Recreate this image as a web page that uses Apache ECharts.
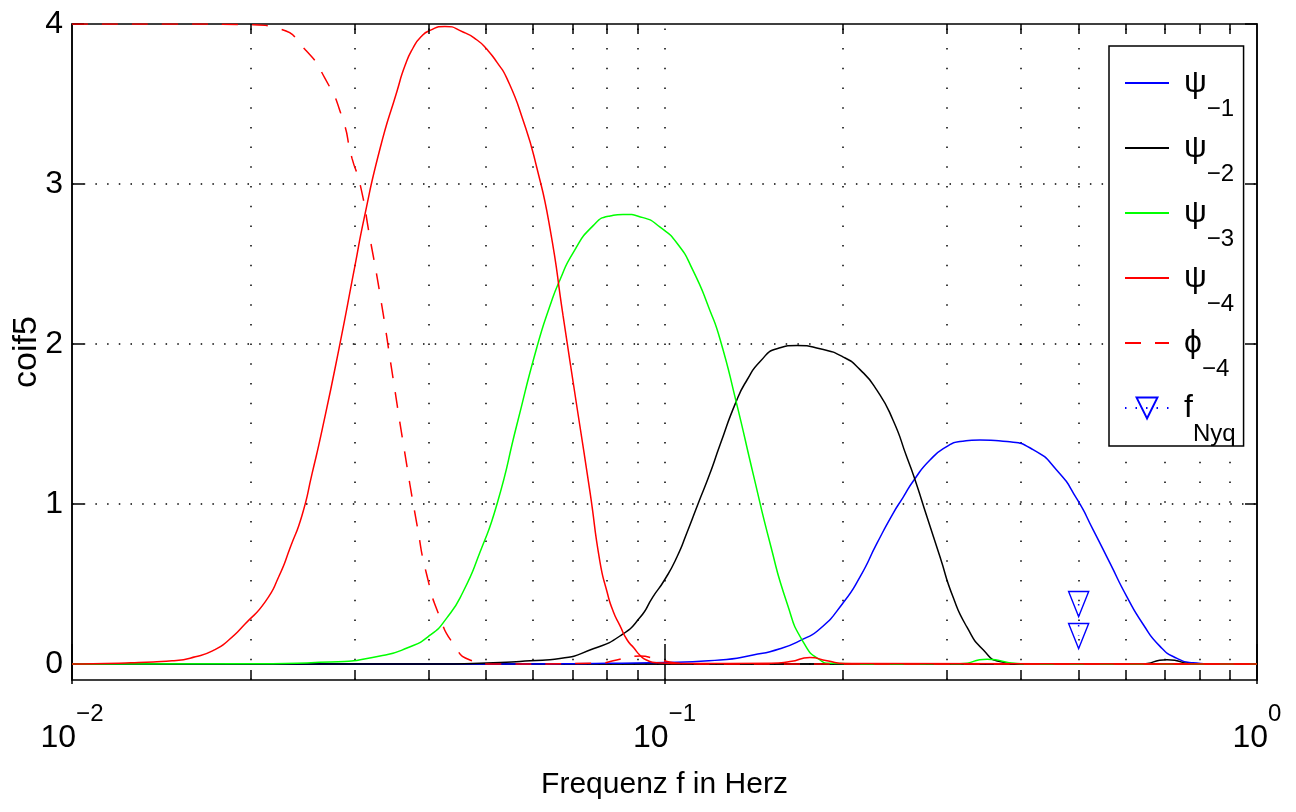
<!DOCTYPE html>
<html>
<head>
<meta charset="utf-8">
<script src="https://cdn.jsdelivr.net/npm/echarts@6/dist/echarts.min.js"></script>
<style>
html,body{margin:0;padding:0;background:#fff;}
#chart{width:1296px;height:812px;}
</style>
</head>
<body>
<div id="chart"></div>
<script>
// ---------------- data ----------------
// psi_-1 (blue)
const psi1Freq = [0.01, 0.03, 0.05, 0.1, 0.1241, 0.1411, 0.1566, 0.1713, 0.183, 0.2, 0.2138, 0.2284, 0.243, 0.2526, 0.2637, 0.2806, 0.2999, 0.3153, 0.3407, 0.3785, 0.4188, 0.4597, 0.4969, 0.5288, 0.5648, 0.6032, 0.6419, 0.686, 0.7328, 0.7798, 0.856, 1.0];
const psi1Val  = [0, 0, 0, 0.01, 0.025, 0.056, 0.095, 0.155, 0.22, 0.38, 0.545, 0.755, 0.94, 1.04, 1.15, 1.275, 1.36, 1.39, 1.40, 1.39, 1.34, 1.21, 1.03, 0.84, 0.63, 0.42, 0.25, 0.11, 0.035, 0.008, 0, 0];
// psi_-2 (black)
const psi2Freq = [0.01, 0.04, 0.0528, 0.0593, 0.0666, 0.0758, 0.0841, 0.0909, 0.0956, 0.1, 0.105, 0.1091, 0.1139, 0.1193, 0.1241, 0.1321, 0.1378, 0.145, 0.1548, 0.1674, 0.183, 0.2, 0.2138, 0.2284, 0.243, 0.2566, 0.2637, 0.2773, 0.2917, 0.3068, 0.324, 0.3447, 0.3683, 0.3981, 0.6346, 0.7048, 0.786, 1.0];
const psi2Val  = [0, 0, 0.01, 0.02, 0.035, 0.095, 0.175, 0.29, 0.42, 0.525, 0.67, 0.82, 1.00, 1.19, 1.37, 1.64, 1.775, 1.89, 1.97, 1.99, 1.97, 1.92, 1.84, 1.71, 1.525, 1.29, 1.17, 0.92, 0.67, 0.42, 0.23, 0.09, 0.015, 0, 0, 0.027, 0, 0];
// psi_-3 (green)
const psi3Freq = [0.01, 0.02, 0.02725, 0.0331, 0.03676, 0.04021, 0.04295, 0.0457, 0.04883, 0.05216, 0.05638, 0.0609, 0.0641, 0.0666, 0.0701, 0.0758, 0.0809, 0.0851, 0.092, 0.0983, 0.105, 0.1117, 0.1193, 0.1241, 0.1321, 0.1411, 0.1507, 0.161, 0.1713, 0.183, 0.1903, 0.25, 0.3153, 0.3503, 0.3935, 0.4304, 1.0];
const psi3Val  = [0, 0.002, 0.012, 0.05, 0.10, 0.18, 0.29, 0.45, 0.70, 1.00, 1.50, 1.98, 2.24, 2.40, 2.57, 2.74, 2.80, 2.81, 2.79, 2.73, 2.63, 2.46, 2.21, 2.03, 1.64, 1.19, 0.755, 0.38, 0.14, 0.025, 0.005, 0, 0.002, 0.03, 0.003, 0, 0];
// psi_-4 (red)
const psi4Freq = [0.01, 0.012, 0.01296, 0.01475, 0.01615, 0.01743, 0.01839, 0.01959, 0.0212, 0.02236, 0.02336, 0.02445, 0.02542, 0.02642, 0.02822, 0.0300, 0.0311, 0.0331, 0.03536, 0.03648, 0.03763, 0.03882, 0.04021, 0.0426, 0.0457, 0.04826, 0.0502, 0.05216, 0.0542, 0.0577, 0.0609, 0.0641, 0.0674, 0.0712, 0.0749, 0.0778, 0.0800, 0.0819, 0.0841, 0.0865, 0.0888, 0.0909, 0.0932, 0.0971, 0.1104, 0.1507, 0.1629, 0.176, 0.1881, 0.2017, 1.0];
const psi4Val  = [0, 0.005, 0.01, 0.02, 0.045, 0.09, 0.15, 0.25, 0.39, 0.55, 0.73, 0.93, 1.19, 1.46, 1.97, 2.48, 2.78, 3.22, 3.58, 3.74, 3.85, 3.92, 3.96, 3.985, 3.95, 3.90, 3.84, 3.76, 3.66, 3.40, 3.10, 2.72, 2.18, 1.60, 1.07, 0.64, 0.45, 0.33, 0.24, 0.15, 0.10, 0.055, 0.025, 0.008, 0.003, 0.005, 0.015, 0.04, 0.02, 0.003, 0];
// phi_-4 (red dashed)
const phi4Freq = [0.01, 0.015, 0.02, 0.02236, 0.02474, 0.02673, 0.02855, 0.02969, 0.03063, 0.03184, 0.0331, 0.03481, 0.03619, 0.03822, 0.03974, 0.04179, 0.04395, 0.04695, 0.0508, 0.0778, 0.0819, 0.0865, 0.0909, 0.0971, 0.1062, 0.12, 1.0];
const phi4Val  = [4.0, 4.0, 3.995, 3.97, 3.84, 3.66, 3.42, 3.16, 3.00, 2.66, 2.31, 1.79, 1.39, 0.87, 0.55, 0.29, 0.13, 0.025, 0, 0.005, 0.02, 0.04, 0.05, 0.03, 0.005, 0, 0];
// f_Nyq markers
const nyqFreq = [0.5, 0.5];
const nyqVal  = [0.375, 0.175];

// axes / ticks
const xMajorTicks = [0.01, 0.1, 1];
const xTickExponents = ['\u22122', '\u22121', '0'];
const xMinorTicks = [0.02, 0.03, 0.04, 0.05, 0.06, 0.07, 0.08, 0.09, 0.2, 0.3, 0.4, 0.5, 0.6, 0.7, 0.8, 0.9];
const xGridLines = [0.02, 0.03, 0.04, 0.05, 0.06, 0.07, 0.08, 0.09, 0.1, 0.2, 0.3, 0.4, 0.5, 0.6, 0.7, 0.8, 0.9];
const yTicks = [0, 1, 2, 3, 4];
const yGridLines = [0, 1, 2, 3];
const yMin = -0.1, yMax = 4;

// legend
const seriesNames = ['psi-1', 'psi-2', 'psi-3', 'psi-4', 'phi-4', 'fNyq'];
const legendSymbols = ['\u03C8', '\u03C8', '\u03C8', '\u03C8', '\u03D5', 'f'];
const legendSubscripts = ['\u22121', '\u22122', '\u22123', '\u22124', '\u22124', 'Nyq'];

const xLabel = 'Frequenz f in Herz';
const yLabel = 'coif5';

// ---------------- chart ----------------
const FONT = "'Liberation Sans',Arial,Helvetica,sans-serif";
const pairs = (f, v) => f.map((x, i) => [x, v[i]]);

const minorTickLen = 10 / 160;   // 10 px in y-units (160 px per unit)
const minorTickData = [];
xMinorTicks.forEach(v => {
  minorTickData.push([{coord: [v, yMin]}, {coord: [v, yMin + minorTickLen]}]);
  minorTickData.push([{coord: [v, yMax]}, {coord: [v, yMax - minorTickLen]}]);
});

function curve(name, f, v, color, dash) {
  return {
    name: name, type: 'line', data: pairs(f, v), symbol: 'none', smooth: 0.6, z: 3,
    lineStyle: {color: color, width: 1.5, type: dash || 'solid'},
    itemStyle: {color: 'rgba(0,0,0,0)', borderWidth: 0}
  };
}

const option = {
  animation: false,
  backgroundColor: '#fff',
  grid: {left: 72, right: 39, top: 24, bottom: 132, show: true, borderColor: '#000', borderWidth: 1.5,
         backgroundColor: 'transparent', containLabel: false, outerBoundsMode: 'none'},
  xAxis: [{
    type: 'log', logBase: 10, min: 0.01, max: 1, position: 'bottom',
    axisLine: {show: true, lineStyle: {color: '#000', width: 1.5}},
    axisTick: {show: true, inside: true, length: 20, lineStyle: {color: '#000', width: 1.5}},
    splitLine: {show: false}, minorTick: {show: false},
    axisLabel: {
      show: true, margin: 22, showMinLabel: true, showMaxLabel: true,
      formatter: function (val) {
        const i = xMajorTicks.findIndex(t => Math.abs(Math.log10(t) - Math.log10(val)) < 1e-6);
        return i < 0 ? '' : '{b|10}{s|' + xTickExponents[i] + '}';
      },
      rich: {
        b: {fontFamily: FONT, fontSize: 32, color: '#000', verticalAlign: 'bottom', lineHeight: 52},
        s: {fontFamily: FONT, fontSize: 24, color: '#000', verticalAlign: 'top', lineHeight: 52}
      }
    },
    name: xLabel, nameLocation: 'middle', nameGap: 90,
    nameTextStyle: {fontFamily: FONT, fontSize: 30, color: '#000'}
  }, {
    type: 'log', logBase: 10, min: 0.01, max: 1, position: 'top',
    axisLine: {show: true, lineStyle: {color: '#000', width: 1.5}},
    axisTick: {show: true, inside: true, length: 20, lineStyle: {color: '#000', width: 1.5}},
    axisLabel: {show: false}, splitLine: {show: false}
  }],
  yAxis: [{
    type: 'value', min: yMin, max: yMax, position: 'left',
    axisLine: {show: true, lineStyle: {color: '#000', width: 1.5}},
    axisTick: {show: true, inside: true, length: 12, customValues: yTicks, lineStyle: {color: '#000', width: 1.5}},
    axisLabel: {show: true, customValues: yTicks, margin: 9, fontFamily: FONT, fontSize: 32, color: '#000'},
    splitLine: {show: false},
    name: yLabel, nameLocation: 'middle', nameGap: 28, nameRotate: 90, nameMoveOverlap: false,
    nameTextStyle: {fontFamily: FONT, fontSize: 34, color: '#000'}
  }, {
    type: 'value', min: yMin, max: yMax, position: 'right',
    axisLine: {show: true, lineStyle: {color: '#000', width: 1.5}},
    axisTick: {show: true, inside: true, length: 12, customValues: yTicks, lineStyle: {color: '#000', width: 1.5}},
    axisLabel: {show: false}, splitLine: {show: false}
  }],
  legend: {
    orient: 'vertical', left: 1109, top: 46,
    padding: [21, 8, 0, 15],
    itemWidth: 44, itemHeight: 26, itemGap: 11,
    backgroundColor: '#fff', borderColor: '#000', borderWidth: 1.5,
    selectedMode: false,
    data: seriesNames,
    formatter: function (name) {
      const i = seriesNames.indexOf(name);
      return '{g|' + legendSymbols[i] + '}{s|' + legendSubscripts[i] + '}';
    },
    textStyle: {
      color: '#000',
      rich: {
        g: {fontFamily: FONT, fontSize: 32, color: '#000', verticalAlign: 'middle', lineHeight: 76, padding: [0, 0, 0, 10]},
        s: {fontFamily: FONT, fontSize: 24, color: '#000', verticalAlign: 'bottom', lineHeight: 76}
      }
    }
  },
  series: [
    { // vertical dotted grid lines
      type: 'line', data: [], silent: true,
      markLine: {
        silent: true, symbol: 'none', z: 1, animation: false, label: {show: false},
        lineStyle: {color: '#000', width: 1.5, type: [1.5, 18.2]},
        emphasis: {disabled: true},
        data: xGridLines.map(v => ({xAxis: v}))
      }
    },
    { // horizontal dotted grid lines
      type: 'line', data: [], silent: true,
      markLine: {
        silent: true, symbol: 'none', z: 1, animation: false, label: {show: false},
        lineStyle: {color: '#000', width: 1.5, type: [1.5, 10.2]},
        emphasis: {disabled: true},
        data: yGridLines.map(v => ({yAxis: v}))
      }
    },
    { // minor ticks (bottom and top)
      type: 'line', data: [], silent: true,
      markLine: {
        silent: true, symbol: 'none', z: 4, animation: false, label: {show: false},
        lineStyle: {color: '#000', width: 1.5, type: 'solid'},
        emphasis: {disabled: true},
        data: minorTickData
      }
    },
    curve('psi-1', psi1Freq, psi1Val, '#0000ff'),
    curve('psi-2', psi2Freq, psi2Val, '#000000'),
    curve('psi-3', psi3Freq, psi3Val, '#00ff00'),
    curve('psi-4', psi4Freq, psi4Val, '#ff0000'),
    curve('phi-4', phi4Freq, phi4Val, '#ff0000', [16, 14]),
    {
      name: 'fNyq', type: 'line', data: pairs(nyqFreq, nyqVal), z: 5,
      symbol: 'triangle', symbolRotate: 180, symbolSize: [20, 25], showSymbol: true,
      lineStyle: {color: '#0000ff', width: 1.5, type: [1.5, 9]},
      itemStyle: {color: 'rgba(255,255,255,0)', borderColor: '#0000ff', borderWidth: 1.5}
    }
  ]
};

const chart = echarts.init(document.getElementById('chart'));
chart.setOption(option);
</script>
</body>
</html>
